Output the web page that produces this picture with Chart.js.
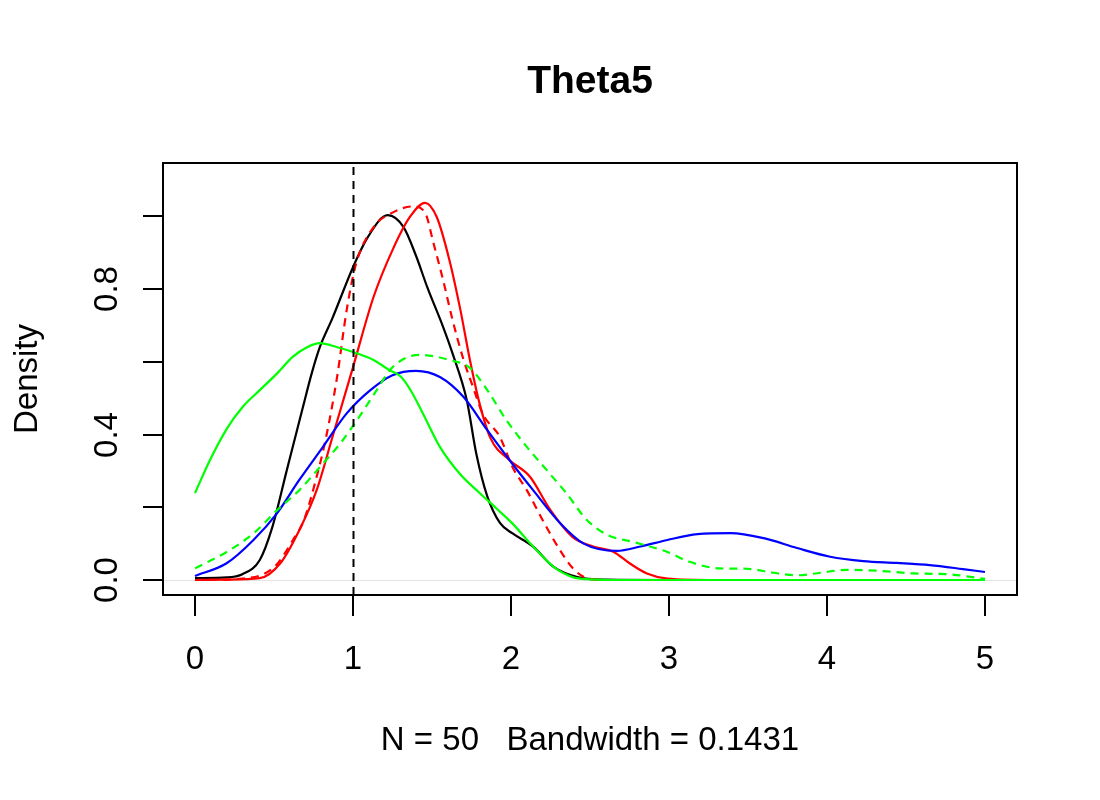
<!DOCTYPE html>
<html>
<head>
<meta charset="utf-8">
<script src="https://cdn.jsdelivr.net/npm/chart.js@4/dist/chart.umd.min.js"></script>
<style>
  html, body { margin: 0; padding: 0; background: #fff; }
  canvas { display: block; }
</style>
</head>
<body>
<canvas id="chart" width="1100" height="800"></canvas>
<script>
// density curves (x = theta, y = density)
const blackX = [0, 0.2, 0.3, 0.41, 0.49, 0.58, 0.68, 0.74, 0.79, 0.87, 1.0, 1.09, 1.22, 1.32, 1.40, 1.47, 1.57, 1.63, 1.72, 1.78, 1.85, 1.93, 2.01, 2.14, 2.27, 2.42, 2.6, 3, 4, 5];
const blackY = [0.005, 0.007, 0.016, 0.055, 0.146, 0.30, 0.47, 0.57, 0.64, 0.72, 0.86, 0.94, 1.003, 0.97, 0.89, 0.805, 0.696, 0.623, 0.495, 0.348, 0.23, 0.157, 0.128, 0.092, 0.036, 0.008, 0.001, 0, 0, 0];

const redX = [0, 0.2, 0.41, 0.54, 0.66, 0.77, 0.87, 1.0, 1.13, 1.25, 1.36, 1.456, 1.53, 1.61, 1.68, 1.74, 1.80, 1.87, 1.99, 2.12, 2.25, 2.39, 2.52, 2.65, 2.75, 2.86, 2.99, 3.3, 4, 5];
const redY = [0, 0.001, 0.005, 0.046, 0.137, 0.247, 0.393, 0.585, 0.778, 0.907, 0.998, 1.037, 0.998, 0.88, 0.742, 0.605, 0.487, 0.39, 0.33, 0.284, 0.192, 0.118, 0.092, 0.077, 0.046, 0.018, 0.004, 0, 0, 0];

const redDashX = [0, 0.3, 0.5, 0.62, 0.69, 0.77, 0.83, 0.90, 0.96, 1.02, 1.13, 1.25, 1.38, 1.456, 1.51, 1.57, 1.63, 1.70, 1.76, 1.82, 1.93, 2.01, 2.10, 2.20, 2.31, 2.39, 2.48, 2.6, 3, 4, 5];
const redDashY = [0, 0.004, 0.035, 0.11, 0.165, 0.284, 0.393, 0.56, 0.742, 0.87, 0.97, 1.01, 1.027, 1.01, 0.925, 0.825, 0.715, 0.605, 0.53, 0.458, 0.393, 0.31, 0.247, 0.165, 0.082, 0.033, 0.005, 0, 0, 0, 0];

const greenX = [0, 0.095, 0.2, 0.30, 0.41, 0.52, 0.62, 0.71, 0.79, 0.90, 1.0, 1.13, 1.23, 1.30, 1.36, 1.44, 1.55, 1.68, 1.80, 1.91, 2.01, 2.14, 2.27, 2.39, 2.5, 2.7, 3, 4, 5];
const greenY = [0.239, 0.33, 0.415, 0.475, 0.522, 0.568, 0.614, 0.64, 0.651, 0.64, 0.627, 0.605, 0.577, 0.56, 0.525, 0.46, 0.366, 0.29, 0.24, 0.196, 0.155, 0.092, 0.036, 0.008, 0.002, 0, 0, 0, 0];

const greenDashX = [0, 0.2, 0.37, 0.52, 0.66, 0.79, 0.92, 1.04, 1.15, 1.25, 1.42, 1.61, 1.74, 1.85, 1.97, 2.10, 2.23, 2.35, 2.48, 2.61, 2.77, 2.99, 3.13, 3.32, 3.49, 3.66, 3.81, 3.96, 4.12, 4.34, 4.55, 4.76, 5.0];
const greenDashY = [0.032, 0.077, 0.128, 0.192, 0.247, 0.31, 0.376, 0.449, 0.522, 0.585, 0.619, 0.605, 0.583, 0.522, 0.44, 0.366, 0.30, 0.239, 0.165, 0.124, 0.105, 0.077, 0.05, 0.032, 0.031, 0.02, 0.013, 0.02, 0.028, 0.025, 0.018, 0.016, 0.003];

const blueX = [0, 0.2, 0.37, 0.52, 0.66, 0.81, 0.96, 1.11, 1.25, 1.40, 1.55, 1.70, 1.85, 1.99, 2.14, 2.31, 2.46, 2.67, 2.82, 2.99, 3.18, 3.39, 3.60, 3.81, 4.02, 4.23, 4.44, 4.65, 4.86, 5.0];
const blueY = [0.011, 0.046, 0.11, 0.184, 0.275, 0.366, 0.458, 0.522, 0.563, 0.575, 0.558, 0.503, 0.412, 0.33, 0.247, 0.157, 0.10, 0.08, 0.092, 0.11, 0.126, 0.129, 0.115, 0.088, 0.064, 0.052, 0.047, 0.041, 0.030, 0.022];

const xTicks = [0, 1, 2, 3, 4, 5];
const yTicks = [0, 0.2, 0.4, 0.6, 0.8, 1.0];
const yTickLabels = ['0.0', '', '0.4', '', '0.8', ''];
const trueValue = 1;

const titleText = 'Theta5';
const xTitle = 'N = 50   Bandwidth = 0.1431';
const yTitle = 'Density';

function pts(xs, ys) {
    return xs.map((x, i) => ({ x: x, y: ys[i] }));
}

function curve(xs, ys, color, dashed) {
    return {
        data: pts(xs, ys),
        borderColor: color,
        borderWidth: 2.2,
        borderDash: dashed ? [8, 6] : [],
        pointRadius: 0,
        fill: false,
        cubicInterpolationMode: 'monotone'
    };
}

const FONT = '"Liberation Sans", Arial, Helvetica, sans-serif';

// R style frame, ticks and labels drawn from the chart's own scales
const basePlot = {
    id: 'basePlot',
    beforeDatasetsDraw(chart) {
        const ctx = chart.ctx;
        const ys = chart.scales.y;
        const a = chart.chartArea;
        const y0 = Math.round(ys.getPixelForValue(0)) + 0.5;
        ctx.save();
        ctx.strokeStyle = '#e3e3e3';
        ctx.lineWidth = 1;
        ctx.beginPath();
        ctx.moveTo(a.left, y0);
        ctx.lineTo(a.right, y0);
        ctx.stroke();
        ctx.restore();
    },
    afterDatasetsDraw(chart) {
        const ctx = chart.ctx;
        const xs = chart.scales.x;
        const ys = chart.scales.y;
        const a = chart.chartArea;
        ctx.save();

        // vertical dashed reference line, drawn bottom up like R does
        const vx = Math.round(xs.getPixelForValue(trueValue)) + 0.5;
        ctx.strokeStyle = '#000';
        ctx.lineWidth = 2;
        ctx.setLineDash([8, 6]);
        ctx.beginPath();
        ctx.moveTo(vx, a.bottom);
        ctx.lineTo(vx, a.top);
        ctx.stroke();
        ctx.setLineDash([]);

        // box
        ctx.lineWidth = 2;
        ctx.strokeRect(a.left, a.top, a.right - a.left, a.bottom - a.top);

        // x ticks
        ctx.fillStyle = '#000';
        ctx.font = '33px ' + FONT;
        ctx.textAlign = 'center';
        ctx.textBaseline = 'alphabetic';
        xTicks.forEach(v => {
            const px = Math.round(xs.getPixelForValue(v));
            ctx.beginPath();
            ctx.moveTo(px, a.bottom);
            ctx.lineTo(px, a.bottom + 21);
            ctx.stroke();
            ctx.fillText(String(v), px, 669);
        });

        // y ticks
        yTicks.forEach((v, i) => {
            const py = Math.round(ys.getPixelForValue(v));
            ctx.beginPath();
            ctx.moveTo(a.left, py);
            ctx.lineTo(a.left - 20, py);
            ctx.stroke();
            if (yTickLabels[i]) {
                ctx.save();
                ctx.translate(117, py);
                ctx.rotate(-Math.PI / 2);
                ctx.fillText(yTickLabels[i], 0, 0);
                ctx.restore();
            }
        });

        // axis titles
        const cx = (a.left + a.right) / 2;
        ctx.fillText(xTitle, cx, 750);
        ctx.save();
        ctx.translate(37, (a.top + a.bottom) / 2);
        ctx.rotate(-Math.PI / 2);
        ctx.fillText(yTitle, 0, 0);
        ctx.restore();

        // main title
        ctx.font = 'bold 39px ' + FONT;
        ctx.fillText(titleText, cx, 93);
        ctx.restore();
    }
};

new Chart(document.getElementById('chart'), {
    type: 'line',
    data: {
        datasets: [
            curve(greenX, greenY, '#00ff00', false),
            curve(greenDashX, greenDashY, '#00ff00', true),
            curve(blueX, blueY, '#0000ff', false),
            curve(redDashX, redDashY, '#ff0000', true),
            curve(redX, redY, '#ff0000', false),
            curve(blackX, blackY, '#000000', false)
        ]
    },
    options: {
        responsive: false,
        animation: false,
        layout: { padding: { left: 163, right: 83, top: 163, bottom: 205 } },
        plugins: {
            legend: { display: false },
            tooltip: { enabled: false },
            title: { display: false }
        },
        scales: {
            x: { type: 'linear', min: -0.2025, max: 5.2025, display: false },
            y: { type: 'linear', min: -0.0412, max: 1.1464, display: false }
        }
    },
    plugins: [basePlot]
});
</script>
</body>
</html>
